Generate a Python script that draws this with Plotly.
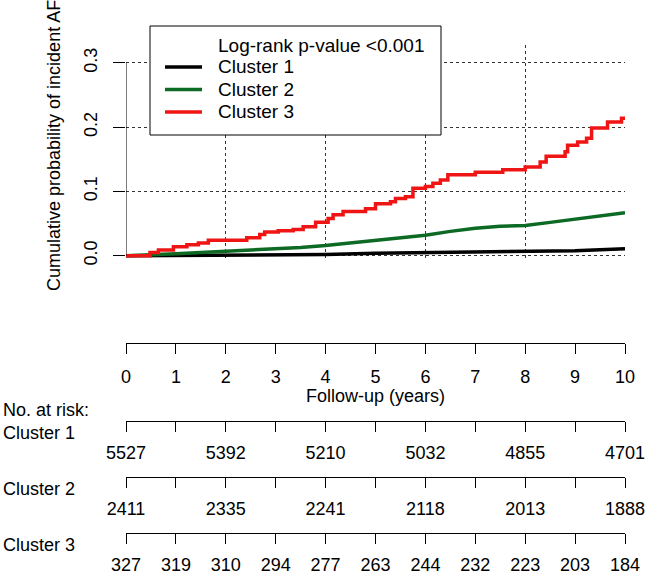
import plotly.graph_objects as go

W, H = 645, 576

# ---------------- data ----------------
years = list(range(0, 11))

red_t = [0, 0.48, 0.65, 0.95, 1.22, 1.45, 1.65, 2.42, 2.68, 2.78, 3.05, 3.35, 3.55, 3.8, 4.05, 4.15,
         4.35, 4.8, 5.0, 5.3, 5.4, 5.6, 5.75, 6.0, 6.15, 6.3, 6.45, 7.0, 7.55, 8.0, 8.3, 8.42,
         8.8, 8.85, 9.05, 9.23, 9.33, 9.65, 9.93, 10.0]
red_p = [0, 0.005, 0.009, 0.014, 0.017, 0.020, 0.024, 0.028, 0.033, 0.037, 0.039, 0.041, 0.045,
         0.052, 0.058, 0.064, 0.069, 0.073, 0.081, 0.084, 0.089, 0.092, 0.105, 0.108, 0.113,
         0.118, 0.126, 0.130, 0.134, 0.138, 0.146, 0.155, 0.162, 0.172, 0.177, 0.183, 0.199,
         0.208, 0.214, 0.214]

green_t = [0, 0.5, 1, 1.5, 2, 2.5, 3, 3.5, 4, 4.5, 5, 5.5, 6, 6.5, 7, 7.5, 8, 8.5, 9, 9.5, 10]
green_p = [0, 0.001, 0.003, 0.005, 0.007, 0.008, 0.010, 0.013, 0.016, 0.020, 0.023, 0.027, 0.032,
           0.038, 0.043, 0.046, 0.047, 0.052, 0.057, 0.063, 0.067]

black_t = [0, 1, 2, 3, 4, 5, 6, 7, 8, 9, 10]
black_p = [0, 0.0005, 0.001, 0.0015, 0.002, 0.004, 0.005, 0.006, 0.007, 0.008, 0.011]

series_names = ["Cluster 1", "Cluster 2", "Cluster 3"]
series_colors = ["#000000", "#0d6a24", "#f01515"]

risk_years_1 = [0, 2, 4, 6, 8, 10]
risk_1 = [5527, 5392, 5210, 5032, 4855, 4701]
risk_years_2 = [0, 2, 4, 6, 8, 10]
risk_2 = [2411, 2335, 2241, 2118, 2013, 1888]
risk_years_3 = list(range(0, 11))
risk_3 = [327, 319, 310, 294, 277, 263, 244, 232, 223, 203, 184]

y_ticks = [0.0, 0.1, 0.2, 0.3]
y_ticktext = ["0.0", "0.1", "0.2", "0.3"]
legend_title = "Log-rank p-value <0.001"

FONT = "Liberation Sans, Arial, sans-serif"
FS = 18
FS_LEG = 19


def fx(px):
    return px / W


def fy(py):
    return (H - py) / H


fig = go.Figure()

fig.add_trace(go.Scatter(x=black_t, y=black_p, mode="lines", line=dict(color=series_colors[0], width=3.5),
                         line_shape="linear", showlegend=False, hoverinfo="skip"))
fig.add_trace(go.Scatter(x=green_t, y=green_p, mode="lines", line=dict(color=series_colors[1], width=3.5),
                         line_shape="linear", showlegend=False, hoverinfo="skip"))
fig.add_trace(go.Scatter(x=red_t, y=red_p, mode="lines", line=dict(color=series_colors[2], width=3.5),
                         line_shape="hv", showlegend=False, hoverinfo="skip"))

# main plot axes
X0, X1 = 126, 625
fig.update_layout(
    xaxis=dict(domain=[fx(X0), fx(X1)], range=[0, 10], tickvals=[2, 4, 6, 8, 10], showticklabels=False,
               ticks="", showgrid=True, gridcolor="#333", griddash="dot", gridwidth=1, zeroline=False,
               showline=False, anchor="y", automargin=False),
    yaxis=dict(domain=[fy(259), fy(45)], range=[-0.005, 0.328], tickvals=y_ticks, ticktext=y_ticktext,
               tickangle=-90, ticks="outside", ticklen=12, tickcolor="#000", tickwidth=1,
               showgrid=True, gridcolor="#333", griddash="dot", gridwidth=1, zeroline=False,
               showline=False, tickfont=dict(family=FONT, size=FS, color="#000"), ticklabelstandoff=9,
               anchor="x", automargin=False, ticklabeloverflow="allow"),
)

shapes = []
# y axis line from 0 to 0.3
shapes.append(dict(type="line", xref="x", yref="y", x0=0, x1=0, y0=0, y1=0.3,
                   line=dict(color="#000", width=1)))

# risk table axes
rows = [
    (343, years, [str(v) for v in years]),
    (421, risk_years_1, [str(v) for v in risk_1]),
    (477, risk_years_2, [str(v) for v in risk_2]),
    (533, risk_years_3, [str(v) for v in risk_3]),
]
for i, (pline, ry, rtext) in enumerate(rows):
    n = i + 2
    lab = {y: t for y, t in zip(ry, rtext)}
    ticktext = [lab.get(y, "") for y in years]
    fig.update_layout(**{
        f"xaxis{n}": dict(domain=[fx(X0), fx(X1)], range=[0, 10], tickvals=years, ticktext=ticktext,
                          ticks="outside", ticklen=10, tickcolor="#000", tickwidth=1, showline=True,
                          linecolor="#000", linewidth=1, showgrid=False, zeroline=False,
                          anchor=f"y{n}", side="bottom", ticklabelstandoff=7 if i == 0 else 5,
                          automargin=False, ticklabeloverflow="allow",
                          tickfont=dict(family=FONT, size=FS, color="#000")),
        f"yaxis{n}": dict(domain=[fy(pline), fy(pline) + 0.005], range=[0, 1], visible=False,
                          anchor=f"x{n}", automargin=False),
    })
    fig.add_trace(go.Scatter(x=[0, 10], y=[0.5, 0.5], xaxis=f"x{n}", yaxis=f"y{n}", mode="lines",
                             line=dict(width=0, color="rgba(0,0,0,0)"), showlegend=False, hoverinfo="skip"))

# legend box (manual)
LB_X0, LB_X1, LB_Y0, LB_Y1 = 150, 441, 26, 135
shapes.append(dict(type="rect", xref="paper", yref="paper", x0=fx(LB_X0), x1=fx(LB_X1), y0=fy(LB_Y1),
                   y1=fy(LB_Y0), line=dict(color="#000", width=1), fillcolor="white", layer="above"))
annotations = []
annotations.append(dict(xref="paper", yref="paper", x=fx(216), y=fy(45), text=legend_title, showarrow=False,
                        xanchor="left", yanchor="middle", font=dict(family=FONT, size=FS_LEG, color="#000")))
for k, (nm, col) in enumerate(zip(series_names, series_colors)):
    yy = 67 + 22.5 * k
    shapes.append(dict(type="line", xref="paper", yref="paper", x0=fx(165), x1=fx(202), y0=fy(yy), y1=fy(yy),
                       line=dict(color=col, width=3.5), layer="above"))
    annotations.append(dict(xref="paper", yref="paper", x=fx(216), y=fy(yy), text=nm, showarrow=False,
                            xanchor="left", yanchor="middle", font=dict(family=FONT, size=FS_LEG, color="#000")))

# y-axis title
annotations.append(dict(xref="paper", yref="paper", x=fx(54), y=fy(146), text="Cumulative probability of incident AF",
                        textangle=-90, showarrow=False, xanchor="center", yanchor="middle",
                        font=dict(family=FONT, size=FS, color="#000")))
# risk table texts
annotations.append(dict(xref="paper", yref="paper", x=fx((X0 + X1) / 2), y=fy(396), text="Follow-up (years)",
                        showarrow=False, xanchor="center", yanchor="middle",
                        font=dict(family=FONT, size=FS, color="#000")))
for txt, yy in [("No. at risk:", 410), ("Cluster 1", 433), ("Cluster 2", 489), ("Cluster 3", 545)]:
    annotations.append(dict(xref="paper", yref="paper", x=fx(1), y=fy(yy), text=txt, showarrow=False,
                            xanchor="left", yanchor="middle", font=dict(family=FONT, size=FS, color="#000")))

fig.update_layout(template="none", width=W, height=H, margin=dict(l=0, r=0, t=0, b=0, autoexpand=False),
                  paper_bgcolor="white", plot_bgcolor="white", shapes=shapes, annotations=annotations,
                  showlegend=False, font=dict(family=FONT, size=FS, color="#000"), hovermode=False)

fig.write_html("out.html", config={"displayModeBar": False, "staticPlot": True},
               post_script="document.body.style.margin='0px';document.body.style.padding='0px';")
